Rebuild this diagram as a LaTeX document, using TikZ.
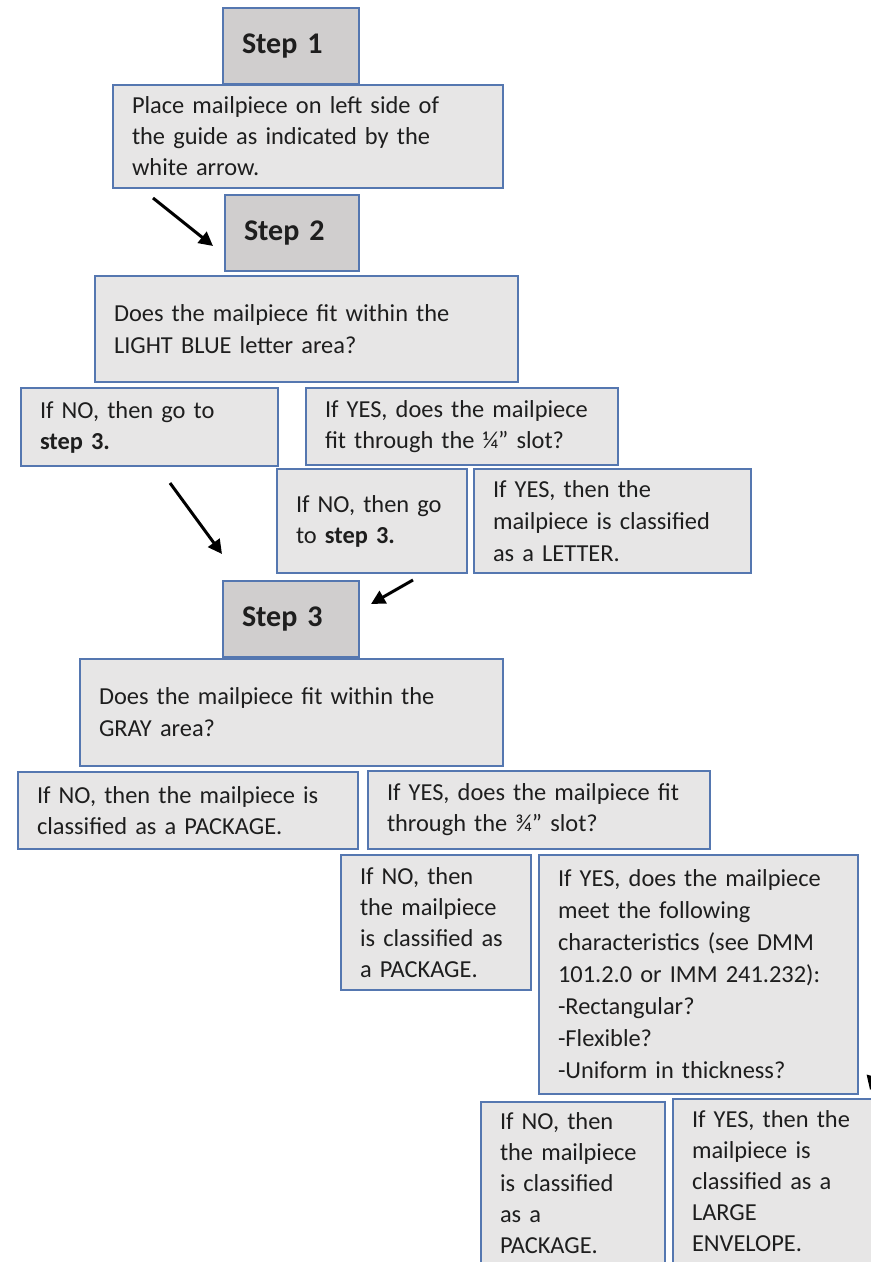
\documentclass[tikz,border=0pt]{standalone}
\usepackage{fontspec}
\setmainfont{Carlito}
\usetikzlibrary{arrows.meta}
\definecolor{mlink}{HTML}{1E1E1E}
\definecolor{mlblue}{HTML}{5577B0}
\definecolor{mlpale}{HTML}{E7E6E6}
\definecolor{mlstep}{HTML}{D0CECE}
\newcommand{\mlfont}{\fontsize{12.2}{15.5}\selectfont\hyphenpenalty=10000 }
\newcommand{\mlwide}{\fontsize{12.2}{16}\selectfont\hyphenpenalty=10000 }
\newcommand{\mlstepfont}{\fontsize{15}{18}\selectfont\bfseries}
\tikzset{
  ml box/.style={draw=mlblue, line width=1pt, fill=mlpale, anchor=north west,
    align=left, inner xsep=9.5pt, inner ysep=0pt, font=\mlfont, text=mlink},
  ml stepbox/.style={ml box, fill=mlstep, font=\mlstepfont, text width=49pt,
    minimum height=38pt},
  ml arrow/.style={-{Triangle[length=7pt,width=7pt]}, line width=1.5pt, draw=black}
}

\begin{document}
\begin{tikzpicture}[x=0.5pt, y=-0.5pt]
  \useasboundingbox (0,0) rectangle (871,1262);
  \clip (0,0) rectangle (871,1262);
  % step 1
  \node[ml stepbox] (s1) at (222,7) {Step 1};
  \node[ml box, text width=176pt, minimum height=51.5pt] (place) at (112,84)
    {Place mailpiece on left side of\\the guide as indicated by the\\white arrow.};
  % step 2
  \node[ml stepbox, text width=48pt] (s2) at (224,194) {Step 2};
  \node[ml box, font=\mlwide, text width=192.5pt, minimum height=53pt] (q2) at (94,275)
    {Does the mailpiece fit within the\\LIGHT BLUE letter area?};
  \node[ml box, text width=109.5pt, minimum height=39pt] (no2a) at (20,387)
    {If NO, then go to\\\textbf{step 3.}};
  \node[ml box, text width=137pt, minimum height=38.5pt] (yes2a) at (305,387)
    {If YES, does the mailpiece\\fit through the ¼” slot?};
  \node[ml box, text width=76pt, minimum height=52pt] (no2b) at (276,468)
    {If NO, then go\\to \textbf{step 3.}};
  \node[ml box, font=\mlwide, text width=119.5pt, minimum height=52pt] (yes2b) at (473,468)
    {If YES, then the\\mailpiece is classified\\as a LETTER.};
  % step 3
  \node[ml stepbox] (s3) at (222,580) {Step 3};
  \node[ml box, font=\mlwide, text width=192.5pt, minimum height=53.5pt] (q3) at (79,658)
    {Does the mailpiece fit within the\\GRAY area?};
  \node[ml box, text width=151pt, minimum height=38.5pt] (no3a) at (17,771)
    {If NO, then the mailpiece is\\classified as a PACKAGE.};
  \node[ml box, text width=152pt, minimum height=39pt] (yes3a) at (367,770)
    {If YES, does the mailpiece fit\\through the ¾” slot?};
  \node[ml box, text width=76pt, minimum height=67.5pt] (no3b) at (340,854)
    {If NO, then\\the mailpiece\\is classified as\\a PACKAGE.};
  \node[ml box, font=\mlwide, text width=140.5pt, minimum height=119.5pt] (yes3b) at (538,854)
    {If YES, does the mailpiece\\meet the following\\characteristics (see DMM\\101.2.0 or IMM 241.232):\\-Rectangular?\\-Flexible?\\-Uniform in thickness?};
  \node[ml box, text width=73pt, minimum height=81pt] (no3c) at (480,1101)
    {If NO, then\\the mailpiece\\is classified\\as a\\PACKAGE.};
  \node[ml box, text width=120pt, minimum height=82pt] (yes3c) at (672,1098)
    {If YES, then the\\mailpiece is\\classified as a\\LARGE\\ENVELOPE.};
  % arrows
  \coordinate (a1 tail) at (153,198);
  \coordinate (a1 tip) at (213,246);
  \coordinate (a2 tail) at (170,483);
  \coordinate (a2 tip) at (222,554);
  \coordinate (a3 tail) at (413,580);
  \coordinate (a3 tip) at (371,604);
  \coordinate (a4 tail) at (884,1040);
  \coordinate (a4 tip) at (870,1090);
  \draw[ml arrow] (a1 tail) -- (a1 tip);
  \draw[ml arrow] (a2 tail) -- (a2 tip);
  \draw[ml arrow] (a3 tail) -- (a3 tip);
  \draw[ml arrow] (a4 tail) -- (a4 tip);
\end{tikzpicture}
\end{document}
